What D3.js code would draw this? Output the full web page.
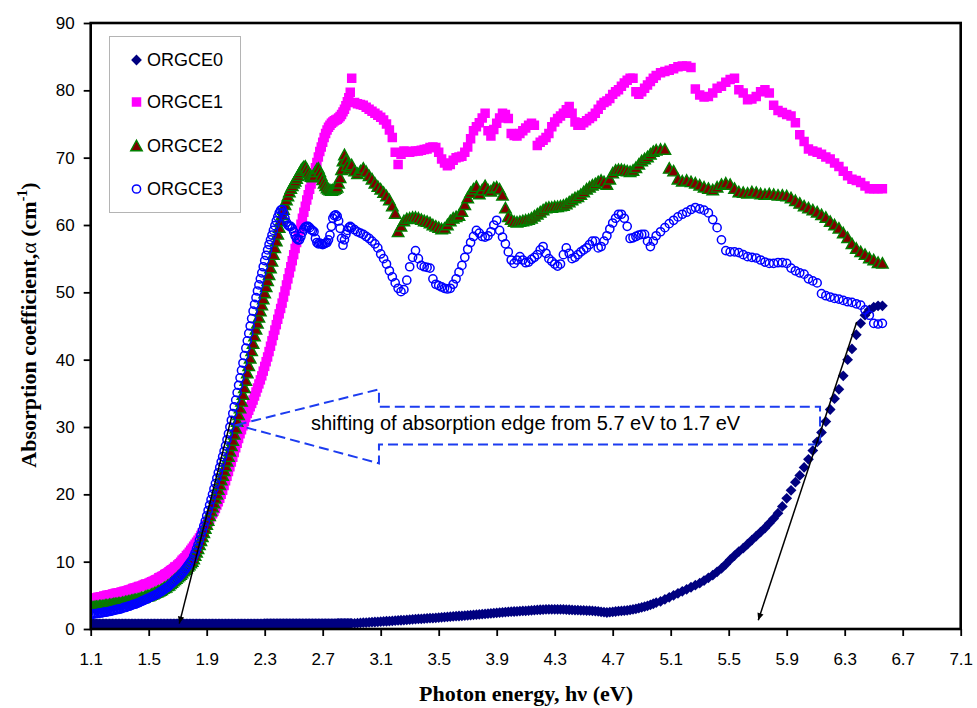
<!DOCTYPE html>
<html>
<head>
<meta charset="utf-8">
<script src="https://cdn.jsdelivr.net/npm/d3@7"></script>
<style>
  body { margin: 0; background: #ffffff; }
  svg { display: block; }
</style>
</head>
<body>
<svg id="chart" width="977" height="708"></svg>
<script>
// Photon energy grid (eV), shared by all four samples
const energy = [
  1.10,1.11,1.12,1.13,1.14,1.15,1.16,1.17,1.18,1.19,
  1.20,1.21,1.22,1.23,1.24,1.25,1.26,1.27,1.28,1.29,
  1.30,1.31,1.32,1.33,1.34,1.35,1.36,1.37,1.38,1.39,
  1.40,1.41,1.42,1.43,1.44,1.45,1.46,1.47,1.48,1.49,
  1.50,1.51,1.52,1.53,1.54,1.55,1.56,1.57,1.58,1.59,
  1.60,1.61,1.62,1.63,1.64,1.65,1.66,1.67,1.68,1.69,
  1.70,1.71,1.72,1.73,1.74,1.75,1.76,1.77,1.78,1.79,
  1.80,1.81,1.82,1.83,1.84,1.85,1.86,1.87,1.88,1.89,
  1.90,1.91,1.92,1.93,1.94,1.95,1.96,1.97,1.98,1.99,
  2.00,2.01,2.02,2.03,2.04,2.05,2.06,2.07,2.08,2.09,
  2.10,2.11,2.12,2.13,2.14,2.15,2.16,2.17,2.18,2.19,
  2.20,2.21,2.22,2.23,2.24,2.25,2.26,2.27,2.28,2.29,
  2.30,2.31,2.32,2.33,2.34,2.35,2.36,2.37,2.38,2.39,
  2.40,2.41,2.42,2.43,2.44,2.45,2.46,2.47,2.48,2.49,
  2.50,2.51,2.52,2.53,2.54,2.55,2.56,2.57,2.58,2.59,
  2.60,2.61,2.62,2.63,2.64,2.65,2.66,2.67,2.68,2.69,
  2.70,2.71,2.72,2.73,2.74,2.75,2.76,2.77,2.78,2.79,
  2.80,2.81,2.82,2.83,2.84,2.85,2.86,2.87,2.88,2.89,
  2.90,
  2.92,2.94,2.96,2.98,3.00,3.02,3.04,3.06,3.08,3.10,
  3.12,3.14,3.16,3.18,3.20,3.22,3.24,3.26,3.28,3.30,
  3.32,3.34,3.36,3.38,3.40,3.42,3.44,3.46,3.48,3.50,
  3.52,3.54,3.56,3.58,3.60,3.62,3.64,3.66,3.68,3.70,
  3.72,3.74,3.76,3.78,3.80,3.82,3.84,3.86,3.88,3.90,
  3.92,3.94,3.96,3.98,4.00,4.02,4.04,4.06,4.08,4.10,
  4.12,4.14,4.16,4.18,4.20,4.22,4.24,4.26,4.28,4.30,
  4.32,4.34,4.36,4.38,4.40,4.42,4.44,4.46,4.48,4.50,
  4.52,4.54,4.56,4.58,4.60,4.62,4.64,4.66,4.68,4.70,
  4.72,4.74,4.76,4.78,4.80,4.82,4.84,4.86,4.88,4.90,
  4.92,4.94,4.96,4.98,5.00,
  5.03,5.06,5.09,5.12,5.15,5.18,5.21,5.24,5.27,5.30,
  5.33,5.36,5.39,5.42,5.45,5.48,5.51,5.54,5.57,5.60,
  5.63,5.66,5.69,5.72,5.75,5.78,5.81,5.84,5.87,5.90,
  5.93,5.96,5.99,6.02,6.05,6.08,6.11,6.14,6.17,6.20,
  6.23,6.26,6.29,6.32,6.35,6.38,6.41,6.44,6.47,6.50,
  6.53,6.56
];

// Absorption coefficient (cm^-1) of each sample on the grid above
const orgce0 = [
  0.75,0.75,0.75,0.75,0.75,0.75,0.75,0.75,0.75,0.75,
  0.75,0.75,0.75,0.75,0.75,0.75,0.75,0.75,0.75,0.75,
  0.75,0.75,0.75,0.75,0.75,0.75,0.75,0.75,0.75,0.75,
  0.75,0.75,0.75,0.75,0.75,0.75,0.75,0.75,0.75,0.75,
  0.75,0.75,0.75,0.75,0.75,0.75,0.75,0.75,0.75,0.75,
  0.75,0.75,0.75,0.75,0.75,0.75,0.75,0.75,0.75,0.75,
  0.75,0.75,0.75,0.75,0.75,0.75,0.75,0.75,0.75,0.75,
  0.75,0.75,0.75,0.75,0.75,0.75,0.75,0.75,0.75,0.75,
  0.75,0.75,0.75,0.75,0.75,0.75,0.75,0.75,0.75,0.75,
  0.75,0.75,0.75,0.75,0.75,0.75,0.75,0.75,0.75,0.75,
  0.75,0.75,0.75,0.75,0.75,0.75,0.75,0.75,0.75,0.75,
  0.75,0.75,0.75,0.75,0.75,0.75,0.75,0.75,0.75,0.75,
  0.78,0.78,0.78,0.78,0.78,0.78,0.78,0.78,0.78,0.78,
  0.78,0.78,0.78,0.78,0.78,0.78,0.78,0.78,0.78,0.78,
  0.78,0.78,0.78,0.78,0.78,0.78,0.78,0.78,0.78,0.78,
  0.78,0.78,0.78,0.78,0.78,0.78,0.78,0.78,0.78,0.78,
  0.80,0.80,0.80,0.80,0.80,0.80,0.80,0.80,0.80,0.80,
  0.82,0.82,0.82,0.82,0.82,0.82,0.82,0.82,0.82,0.82,
  0.84,
  0.85,0.87,0.90,0.93,0.96,0.99,1.02,1.04,1.07,1.10,
  1.12,1.15,1.18,1.20,1.23,1.27,1.30,1.33,1.36,1.40,
  1.43,1.46,1.50,1.52,1.55,1.58,1.60,1.63,1.66,1.70,
  1.73,1.76,1.80,1.83,1.86,1.90,1.93,1.96,2.00,2.03,
  2.06,2.10,2.13,2.17,2.20,2.24,2.28,2.32,2.36,2.40,
  2.44,2.48,2.52,2.55,2.58,2.60,2.63,2.66,2.68,2.70,
  2.73,2.76,2.80,2.83,2.86,2.88,2.90,2.92,2.93,2.93,
  2.92,2.90,2.90,2.88,2.86,2.84,2.82,2.80,2.78,2.76,
  2.74,2.72,2.70,2.66,2.62,2.56,2.50,2.45,2.50,2.56,
  2.60,2.64,2.68,2.72,2.77,2.83,2.90,3.00,3.10,3.20,
  3.32,3.45,3.60,3.75,3.90,
  4.1,4.4,4.7,5.0,5.3,5.6,5.9,6.2,6.5,6.8,
  7.2,7.6,8.0,8.5,9.0,9.6,10.3,10.9,11.5,12.0,
  12.6,13.2,13.8,14.4,15.0,15.7,16.4,17.2,18.2,19.4,
  20.6,21.8,22.8,24.0,25.2,26.5,27.8,29.2,30.8,32.6,
  34.2,35.6,37.6,40.0,41.6,43.7,45.4,46.6,47.4,47.8,
  48.0,48.0
];

const orgce1 = [
  4.4,4.5,4.5,4.6,4.6,4.7,4.7,4.8,4.8,4.9,
  4.9,5.0,5.0,5.1,5.1,5.2,5.2,5.3,5.3,5.4,
  5.4,5.5,5.5,5.6,5.6,5.7,5.8,5.8,5.9,6.0,
  6.1,6.1,6.2,6.3,6.3,6.4,6.5,6.6,6.7,6.7,
  6.8,6.9,7.0,7.1,7.2,7.3,7.4,7.6,7.7,7.8,
  7.9,8.1,8.2,8.3,8.5,8.7,8.8,9.0,9.2,9.3,
  9.5,9.7,9.9,10.2,10.4,10.6,10.9,11.1,11.4,11.7,
  12.0,12.3,12.6,12.9,13.2,13.5,13.9,14.3,14.7,15.1,
  15.5,15.9,16.3,16.7,17.1,17.5,17.9,18.4,18.9,19.4,
  20.0,20.6,21.3,22.0,22.7,23.4,24.1,24.8,25.5,26.2,
  26.9,27.6,28.3,29.0,29.6,30.2,30.8,31.4,32.0,32.5,
  33.0,33.5,34.0,34.6,35.2,35.8,36.4,37.0,37.6,38.3,
  39.0,39.7,40.4,41.2,42.0,42.8,43.6,44.4,45.2,46.0,
  46.8,47.6,48.4,49.3,50.2,51.1,52.0,52.9,53.8,54.7,
  55.6,56.5,57.4,58.3,59.2,60.1,61.0,61.9,62.8,63.7,
  64.5,65.3,66.1,66.9,67.7,68.5,69.3,70.1,70.9,71.6,
  72.3,73.0,73.6,74.1,74.5,74.8,75.1,75.3,75.5,75.6,
  75.7,75.9,76.1,76.4,76.8,77.2,77.7,78.3,78.9,79.7,
  81.8,
  78.2,78.0,77.9,77.8,77.5,77.2,76.9,76.6,76.3,76.0,
  75.6,75.0,74.1,73.0,70.8,69.0,70.5,71.0,70.9,70.8,
  70.9,71.0,71.0,71.1,71.2,71.3,71.5,71.6,71.5,70.8,
  69.8,69.2,68.8,69.0,69.6,70.0,70.1,70.2,70.8,71.6,
  72.8,74.0,74.6,75.2,75.9,76.6,74.0,73.2,74.2,75.1,
  75.9,76.6,76.4,75.8,73.6,73.3,73.2,73.6,74.0,74.4,
  74.8,75.1,74.8,71.8,72.3,72.6,73.0,73.6,74.6,75.3,
  75.8,76.2,76.6,77.1,77.6,76.6,75.3,74.8,74.8,75.2,
  75.5,75.8,76.1,76.6,77.2,77.8,78.2,78.4,78.8,79.4,
  79.8,80.1,80.6,81.1,81.5,81.8,81.8,79.8,79.4,79.8,
  80.3,80.8,81.3,81.8,82.2,
  82.6,82.8,83.0,83.2,83.5,83.6,83.6,83.4,80.2,79.3,
  79.0,79.1,79.6,80.3,80.6,81.2,81.6,81.8,80.1,79.6,
  78.6,78.7,79.1,79.8,80.1,79.6,77.8,77.0,76.7,76.4,
  76.2,75.2,73.4,72.4,71.3,71.0,70.8,70.5,70.1,69.8,
  69.2,68.7,68.0,67.3,66.8,66.6,66.3,65.8,65.4,65.4,
  65.4,65.4
];

const orgce2 = [
  3.2,3.2,3.2,3.3,3.3,3.3,3.4,3.4,3.4,3.4,
  3.5,3.5,3.5,3.6,3.6,3.6,3.7,3.7,3.7,3.8,
  3.8,3.8,3.9,3.9,4.0,4.0,4.1,4.1,4.2,4.2,
  4.3,4.3,4.4,4.4,4.5,4.6,4.6,4.7,4.8,4.9,
  4.9,5.0,5.1,5.2,5.3,5.4,5.5,5.6,5.7,5.8,
  6.0,6.1,6.2,6.4,6.5,6.7,6.9,7.1,7.3,7.5,
  7.7,7.9,8.1,8.3,8.6,8.8,9.0,9.3,9.5,9.8,
  10.0,10.4,10.9,11.4,11.9,12.5,13.1,13.7,14.3,14.9,
  15.5,16.1,16.8,17.5,18.1,18.7,19.4,20.0,20.7,21.4,
  22.1,22.8,23.5,24.2,24.9,25.6,26.4,27.2,28.0,28.9,
  29.8,30.8,31.8,32.8,33.8,34.8,35.8,36.9,38.0,39.1,
  40.2,41.3,42.4,43.5,44.5,45.4,46.3,47.2,48.1,49.0,
  49.9,50.8,51.7,52.6,53.6,54.6,55.6,56.6,57.6,58.6,
  59.6,60.6,61.5,62.3,63.0,63.7,64.3,64.9,65.4,65.8,
  66.2,66.5,66.9,67.3,67.7,68.1,68.4,68.6,68.7,68.3,
  67.8,67.4,67.2,67.1,67.3,67.9,68.3,68.4,67.9,67.3,
  66.7,66.2,65.8,65.5,65.3,65.2,65.1,65.2,65.3,65.4,
  65.6,66.2,67.0,68.2,69.5,70.4,69.6,68.8,68.3,68.6,
  68.9,
  68.0,67.6,68.0,68.4,67.9,67.3,66.8,66.2,65.7,65.3,
  64.8,64.3,63.7,62.8,61.7,59.0,59.8,60.6,60.9,61.0,
  61.1,61.1,61.0,60.8,60.6,60.5,60.3,60.0,59.8,59.6,
  59.4,59.5,60.0,60.6,61.0,61.2,61.4,62.0,63.0,64.0,
  64.8,65.3,65.7,64.6,65.2,65.8,65.2,65.0,65.5,65.6,
  65.3,64.4,62.5,61.2,60.8,60.5,60.4,60.5,60.6,60.7,
  60.8,61.0,61.3,61.6,61.9,62.2,62.5,62.6,62.6,62.7,
  62.7,62.8,62.9,63.1,63.4,63.7,64.0,64.2,64.5,64.9,
  65.3,65.6,65.9,66.1,66.4,66.6,66.4,66.0,66.8,67.7,
  68.1,68.2,68.2,68.1,68.0,67.9,68.1,68.5,69.0,69.5,
  69.8,70.1,70.5,70.9,71.1,
  71.2,71.2,68.4,68.0,66.8,66.5,66.6,66.4,66.2,65.9,
  65.6,65.4,65.2,65.6,66.0,66.2,66.0,65.4,64.9,64.8,
  64.7,64.9,64.8,64.6,64.5,64.6,64.5,64.4,64.4,64.3,
  64.0,63.6,63.2,62.8,62.5,62.2,61.9,61.5,61.1,60.5,
  60.0,59.5,58.8,58.1,57.2,56.5,56.0,55.6,55.1,54.8,
  54.4,54.3
];

const orgce3 = [
  2.2,2.2,2.2,2.3,2.3,2.3,2.4,2.4,2.4,2.5,
  2.5,2.5,2.6,2.6,2.7,2.7,2.8,2.8,2.9,2.9,
  3.0,3.0,3.1,3.2,3.2,3.3,3.4,3.4,3.5,3.6,
  3.7,3.7,3.8,3.9,4.0,4.1,4.2,4.3,4.4,4.5,
  4.6,4.7,4.8,4.9,5.0,5.1,5.2,5.4,5.5,5.6,
  5.8,5.9,6.1,6.2,6.4,6.6,6.8,7.0,7.2,7.4,
  7.6,7.8,8.0,8.3,8.5,8.8,9.1,9.4,9.7,10.0,
  10.3,10.8,11.3,11.9,12.5,13.2,13.9,14.6,15.3,16.0,
  16.8,17.6,18.4,19.2,20.0,20.8,21.6,22.4,23.2,24.0,
  24.8,25.6,26.4,27.2,28.1,29.0,30.0,31.0,32.0,33.0,
  34.0,35.1,36.2,37.3,38.4,39.5,40.6,41.7,42.8,43.9,
  45.0,46.1,47.2,48.2,49.2,50.2,51.1,52.0,52.9,53.8,
  54.7,55.5,56.3,57.1,57.8,58.5,59.2,59.9,60.6,61.2,
  61.8,62.2,62.3,61.8,61.0,60.4,60.0,59.8,59.8,59.5,
  59.0,58.4,58.0,57.8,57.8,58.3,58.9,59.4,59.7,59.8,
  59.8,59.6,59.3,59.2,59.0,58.0,57.4,57.2,57.3,57.2,
  57.1,57.2,57.3,57.4,57.8,58.5,59.8,61.0,61.4,61.5,
  61.3,60.6,59.5,58.0,57.0,57.8,58.6,59.2,59.6,59.8,
  59.6,
  59.3,59.0,58.8,58.6,58.3,58.0,57.6,57.2,56.6,55.7,
  55.0,54.2,53.2,52.3,51.4,50.6,50.1,50.4,51.8,53.8,
  55.2,56.2,55.0,54.0,53.8,53.7,53.6,52.0,51.2,51.0,
  50.8,50.6,50.5,50.6,51.2,52.0,53.0,54.0,55.2,56.4,
  57.4,58.3,59.2,58.8,58.3,58.2,58.4,59.0,60.0,60.7,
  59.2,58.2,57.2,56.0,54.8,54.3,54.8,55.3,54.8,54.4,
  54.5,54.9,55.2,55.6,56.3,56.8,55.8,55.0,54.6,54.2,
  53.9,54.2,55.6,56.6,55.8,55.0,55.2,55.6,56.0,56.3,
  56.6,57.1,57.6,57.6,56.6,56.8,57.6,58.4,59.4,60.3,
  61.0,61.6,61.6,61.0,59.8,58.0,58.1,58.3,58.5,58.6,
  58.6,57.6,56.8,57.6,58.4,
  59.0,59.6,60.2,60.7,61.2,61.6,61.9,62.3,62.6,62.4,
  62.2,61.8,60.8,59.6,57.8,56.2,56.0,56.0,55.9,55.6,
  55.3,55.2,55.1,54.8,54.5,54.3,54.3,54.4,54.4,54.3,
  53.6,53.2,52.9,52.7,52.0,51.7,51.4,49.8,49.5,49.3,
  49.1,49.0,48.8,48.6,48.5,48.3,48.1,47.4,46.6,45.4,
  45.3,45.4
];

const seriesNames = ["ORGCE0", "ORGCE1", "ORGCE2", "ORGCE3"];
const seriesValues = [orgce0, orgce1, orgce2, orgce3];
const xTickValues = [1.1, 1.5, 1.9, 2.3, 2.7, 3.1, 3.5, 3.9, 4.3, 4.7, 5.1, 5.5, 5.9, 6.3, 6.7, 7.1];
const yTickValues = [0, 10, 20, 30, 40, 50, 60, 70, 80, 90];
const noteText = "shifting of absorption edge from 5.7 eV to 1.7 eV";

// ---------------------------------------------------------------------------
const svg = d3.select("#chart");
const W = 977, H = 708;
const plot = { left: 90.7, right: 960.7, top: 23, bottom: 629 };

const x = d3.scaleLinear().domain([1.1, 7.1]).range([plot.left, plot.right]);
const y = d3.scaleLinear().domain([0, 90]).range([plot.bottom, plot.top]);

svg.append("rect").attr("width", W).attr("height", H).attr("fill", "#ffffff");

const defs = svg.append("defs");
defs.append("clipPath").attr("id", "plot-clip")
  .append("rect")
  .attr("x", plot.left).attr("y", plot.top)
  .attr("width", plot.right - plot.left).attr("height", plot.bottom - plot.top);

defs.append("marker")
  .attr("id", "arrow-head")
  .attr("viewBox", "0 0 10 10")
  .attr("refX", 10).attr("refY", 5)
  .attr("markerWidth", 9).attr("markerHeight", 7)
  .attr("markerUnits", "userSpaceOnUse")
  .attr("orient", "auto")
  .append("path").attr("d", "M0,0.5L10,5L0,9.5Z").attr("fill", "#000000");

// marker shapes
const diamondShape = {
  draw(ctx, size) {
    const r = Math.sqrt(size / 2);
    ctx.moveTo(0, -r); ctx.lineTo(r, 0); ctx.lineTo(0, r); ctx.lineTo(-r, 0); ctx.closePath();
  }
};
const triangleShape = {
  draw(ctx, size) {
    const s = Math.sqrt(size);
    ctx.moveTo(0, -0.55 * s); ctx.lineTo(0.55 * s, 0.45 * s); ctx.lineTo(-0.55 * s, 0.45 * s); ctx.closePath();
  }
};

const markerStyles = [
  { path: d3.symbol().type(diamondShape).size(58)(), fill: "#000080", stroke: "none", sw: 0 },
  { path: d3.symbol().type(d3.symbolSquare).size(90)(), fill: "#ff00ff", stroke: "none", sw: 0 },
  { path: d3.symbol().type(triangleShape).size(110)(), fill: "#800000", stroke: "#008000", sw: 1.4 },
  { circle: 4.1, fill: "none", stroke: "#0000ff", sw: 1.5 }
];

function drawMarker(sel, style) {
  if (style.circle) {
    sel.append("circle").attr("r", style.circle)
      .attr("fill", style.fill).attr("stroke", style.stroke).attr("stroke-width", style.sw);
  } else {
    sel.append("path").attr("d", style.path)
      .attr("fill", style.fill).attr("stroke", style.stroke).attr("stroke-width", style.sw)
      .attr("stroke-linejoin", "miter");
  }
}

// ---------------------------------------------------------------------------
// data markers
const dataLayer = svg.append("g").attr("clip-path", "url(#plot-clip)");
seriesValues.forEach((values, si) => {
  const pts = energy.map((e, i) => ({ e, a: values[i] })).filter(d => d.a != null);
  const g = dataLayer.append("g").attr("class", "series-" + seriesNames[si]);
  g.selectAll("g.pt").data(pts).join("g")
    .attr("class", "pt")
    .attr("transform", d => `translate(${x(d.e)},${y(d.a)})`)
    .each(function () { drawMarker(d3.select(this), markerStyles[si]); });
});

// ---------------------------------------------------------------------------
// axes
const tickFont = "'Liberation Sans', Arial, sans-serif";

const xAxis = svg.append("g")
  .attr("transform", `translate(0,${plot.bottom})`)
  .call(d3.axisBottom(x).tickValues(xTickValues).tickSize(7).tickPadding(17)
    .tickFormat(d3.format(".1f")));
const yAxis = svg.append("g")
  .attr("transform", `translate(${plot.left},0)`)
  .call(d3.axisLeft(y).tickValues(yTickValues).tickSize(7).tickPadding(9)
    .tickFormat(d3.format("d")));

[xAxis, yAxis].forEach(a => {
  a.select(".domain").remove();
  a.selectAll(".tick line").attr("stroke", "#000").attr("stroke-width", 1.8);
  a.selectAll(".tick text").attr("fill", "#000")
    .style("font-family", tickFont).style("font-size", "17px");
});

// plot frame
svg.append("rect")
  .attr("x", plot.left).attr("y", plot.top)
  .attr("width", plot.right - plot.left).attr("height", plot.bottom - plot.top)
  .attr("fill", "none").attr("stroke", "#000").attr("stroke-width", 2.6);

// axis titles
const titleFont = "'Liberation Serif', 'Times New Roman', serif";
svg.append("text")
  .attr("x", 526).attr("y", 701)
  .attr("text-anchor", "middle")
  .style("font-family", titleFont).style("font-weight", "bold").style("font-size", "22px")
  .text("Photon energy, h\u03bd  (eV)");

const yTitle = svg.append("text")
  .attr("transform", "translate(36,325) rotate(-90)")
  .attr("text-anchor", "middle")
  .style("font-family", titleFont).style("font-weight", "bold").style("font-size", "22px");
yTitle.append("tspan").text("Absorption coefficient,");
yTitle.append("tspan").style("font-weight", "normal").text("\u03b1");
yTitle.append("tspan").text(" (cm");
yTitle.append("tspan").attr("dy", -9).style("font-size", "14px").text("-1");
yTitle.append("tspan").attr("dy", 9).text(")");

// ---------------------------------------------------------------------------
// legend
const legend = svg.append("g");
legend.append("rect")
  .attr("x", 109.5).attr("y", 36.5).attr("width", 131).attr("height", 176)
  .attr("fill", "#ffffff").attr("stroke", "#b4b4b4").attr("stroke-width", 1);
const legendRows = [60, 102, 146, 189];
seriesNames.forEach((name, i) => {
  const row = legend.append("g").attr("transform", `translate(136.5,${legendRows[i]})`);
  drawMarker(row, markerStyles[i]);
  row.append("text")
    .attr("x", 10.5).attr("dy", "0.36em")
    .style("font-family", tickFont).style("font-size", "18px").attr("fill", "#000")
    .text(name);
});

// ---------------------------------------------------------------------------
// annotation: hollow dashed arrow pointing from the ORGCE0 edge to the doped edges
const hollowArrow = [
  [2.107, 30.3], [3.088, 35.6], [3.088, 33.0], [6.13, 33.0],
  [6.13, 27.4], [3.088, 27.4], [3.088, 24.6]
];
svg.append("path")
  .attr("d", d3.line().x(d => x(d[0])).y(d => y(d[1]))(hollowArrow) + "Z")
  .attr("fill", "none").attr("stroke", "#1c3cf0").attr("stroke-width", 2)
  .attr("stroke-dasharray", "10,5");

svg.append("text")
  .attr("x", 311).attr("y", 430)
  .style("font-family", tickFont).style("font-size", "20px").attr("fill", "#000")
  .text(noteText);

// tangent lines extrapolated to the energy axis
const edgeLines = [
  { from: [2.072, 31.5], to: [1.711, 0.8] },
  { from: [6.383, 45.6], to: [5.704, 1.3] }
];
edgeLines.forEach(l => {
  svg.append("line")
    .attr("x1", x(l.from[0])).attr("y1", y(l.from[1]))
    .attr("x2", x(l.to[0])).attr("y2", y(l.to[1]))
    .attr("stroke", "#000").attr("stroke-width", 1.5)
    .attr("marker-end", "url(#arrow-head)");
});
</script>
</body>
</html>
